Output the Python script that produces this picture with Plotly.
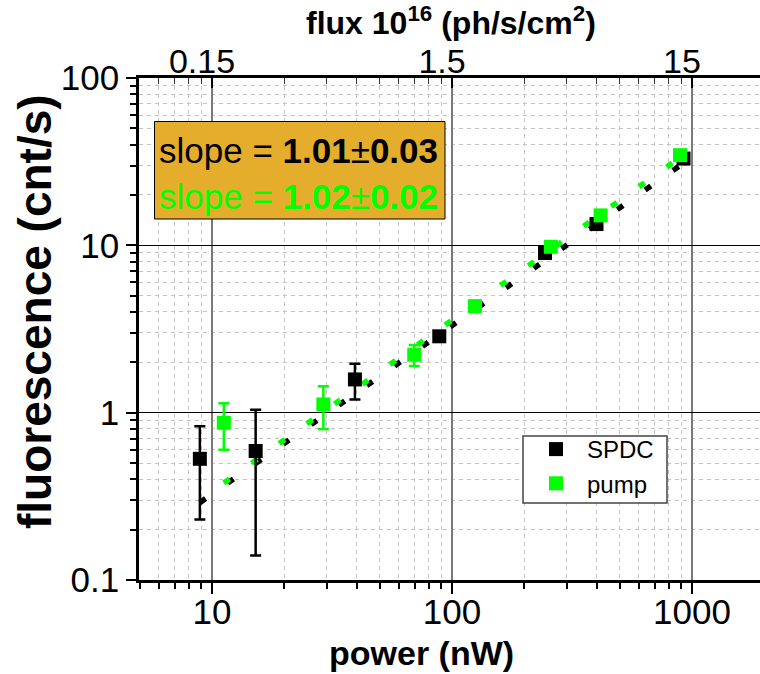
import plotly.graph_objects as go

# ---------------- data ----------------
spdc_power = [8.9, 15.2, 39.4, 88.5, 244, 400, 922]
spdc_fluor = [0.53, 0.59, 1.58, 2.86, 9.0, 13.4, 33.0]
spdc_err = [0.30, 0.45, 0.38, 0.15, 0.5, 0.7, 1.5]

pump_power = [11.2, 29.1, 69.6, 124.7, 258, 416, 891]
pump_fluor = [0.87, 1.12, 2.22, 4.33, 9.8, 15.1, 34.6]
pump_err = [0.27, 0.32, 0.32, 0.2, 0.5, 0.7, 1.5]

spdc_fit_x = [8.9, 922]
spdc_fit_y = [0.29, 31.0]
pump_fit_x = [11.2, 891]
pump_fit_y = [0.38, 33.5]

x_tickvals = [10, 100, 1000]
x_ticktext = ["10", "100", "1000"]
top_ticktext = ["0.15", "1.5", "15"]
y_tickvals = [0.1, 1, 10, 100]
y_ticktext = ["0.1", "1", "10", "100"]

slope_spdc = "slope = <b>1.01</b>±<b>0.03</b>"
slope_pump = "slope = <b>1.02</b>±<b>0.02</b>"

# ---------------- layout geometry ----------------
W, H = 760, 674
L, R, T, B = 139, 0, 78, 94
PW, PH = W - L - R, H - T - B

def px(xp):
    return (xp - L) / PW

def py(yp):
    return (H - B - yp) / PH

FONT = "Liberation Sans, Arial, sans-serif"
GREEN = "#00FF00"

minor_x = [m * d for d in (1, 10, 100, 1000) for m in range(2, 10)]
minor_y = [m * d for d in (0.1, 1, 10) for m in range(2, 10)]

fig = go.Figure()

# fit lines
fig.add_trace(go.Scatter(x=spdc_fit_x, y=spdc_fit_y, mode="lines",
                         line=dict(color="black", width=5.5, dash="7px,27px"),
                         showlegend=False, hoverinfo="skip"))
fig.add_trace(go.Scatter(x=pump_fit_x, y=pump_fit_y, mode="lines",
                         line=dict(color=GREEN, width=5.5, dash="7px,27px"),
                         showlegend=False, hoverinfo="skip"))

# data
fig.add_trace(go.Scatter(x=spdc_power, y=spdc_fluor, mode="markers", name="SPDC",
                         marker=dict(symbol="square", size=14, color="black"),
                         error_y=dict(type="data", array=spdc_err, visible=True,
                                      color="black", thickness=2.5, width=5.5)))
fig.add_trace(go.Scatter(x=pump_power, y=pump_fluor, mode="markers", name="pump",
                         marker=dict(symbol="square", size=14, color=GREEN),
                         error_y=dict(type="data", array=pump_err, visible=True,
                                      color=GREEN, thickness=2.5, width=5.5)))

xrange = [0.6958, 3.2833]

fig.update_layout(
    width=W, height=H,
    margin=dict(l=L, r=R, t=T, b=B, pad=0),
    paper_bgcolor="white", plot_bgcolor="white",
    font=dict(family=FONT, color="black"),
    xaxis=dict(
        type="log", range=xrange,
        tickvals=x_tickvals, ticktext=x_ticktext,
        tickfont=dict(size=35), ticklabelstandoff=-12,
        ticks="outside", ticklen=11, tickwidth=1.5, tickcolor="black",
        showline=True, linecolor="black", linewidth=2.5,
        showgrid=True, gridcolor="#7a7a7a", gridwidth=1.5,
        zeroline=False,
        minor=dict(tickvals=minor_x, ticks="outside", ticklen=6, tickwidth=1.5,
                   tickcolor="black", showgrid=True, gridcolor="#c4c4c4",
                   gridwidth=1, griddash="4px,4px"),
    ),
    xaxis2=dict(
        type="log", range=xrange, overlaying="x", side="top",
        tickvals=x_tickvals, ticktext=top_ticktext,
        tickfont=dict(size=34), ticklabelshift=-10, ticklabelstandoff=-11,
        ticks="inside", ticklen=10, tickwidth=1.5, tickcolor="black",
        showline=True, linecolor="black", linewidth=2.5,
        showgrid=False, zeroline=False,
        minor=dict(tickvals=minor_x, ticks="inside", ticklen=6, tickwidth=1,
                   tickcolor="#333", showgrid=False),
    ),
    yaxis=dict(
        type="log", range=[-1, 2],
        tickvals=y_tickvals, ticktext=y_ticktext,
        tickfont=dict(size=35),
        ticks="outside", ticklen=10, tickwidth=1.5, tickcolor="black",
        showline=True, linecolor="black", linewidth=2.5,
        showgrid=True, gridcolor="black", gridwidth=1.2,
        zeroline=False,
        minor=dict(tickvals=minor_y, ticks="outside", ticklen=6, tickwidth=1.5,
                   tickcolor="black", showgrid=True, gridcolor="#c4c4c4",
                   gridwidth=1, griddash="4px,4px"),
    ),
    showlegend=True,
    legend=dict(x=px(525), y=py(427), xanchor="left", yanchor="top",
                bgcolor="rgba(0,0,0,0)", borderwidth=0,
                font=dict(size=24, family=FONT), itemwidth=52,
                tracegroupgap=0),
)

# trace on the top axis so it is drawn
fig.add_trace(go.Scatter(x=[10], y=[1], xaxis="x2", mode="markers",
                         marker=dict(opacity=0), showlegend=False, hoverinfo="skip"))

# legend frame
fig.add_shape(type="rect", xref="paper", yref="paper",
              x0=px(523), x1=px(667), y0=py(503), y1=py(436),
              fillcolor="white", line=dict(color="#444", width=1.5), layer="above")

# slope box
fig.add_shape(type="rect", xref="paper", yref="paper",
              x0=px(154.5), x1=px(445), y0=py(219), y1=py(121.5),
              fillcolor="#E5AD2C", line=dict(color="black", width=1), layer="above")
fig.add_annotation(xref="paper", yref="paper", x=px(157), y=py(150),
                   xanchor="left", yanchor="middle", showarrow=False,
                   text=slope_spdc, font=dict(size=35, color="black", family=FONT))
fig.add_annotation(xref="paper", yref="paper", x=px(157), y=py(196),
                   xanchor="left", yanchor="middle", showarrow=False,
                   text=slope_pump, font=dict(size=35, color=GREEN, family=FONT))

# axis titles
fig.add_annotation(xref="paper", yref="paper", x=px(421), y=py(653),
                   xanchor="center", yanchor="middle", showarrow=False,
                   text="<b>power (nW)</b>", font=dict(size=34, family=FONT))
fig.add_annotation(xref="paper", yref="paper", x=px(451), y=py(21),
                   xanchor="center", yanchor="middle", showarrow=False,
                   text="<b>flux 10<sup>16</sup> (ph/s/cm<sup>2</sup>)</b>",
                   font=dict(size=32, family=FONT))
fig.add_annotation(xref="paper", yref="paper", x=px(35), y=py(312),
                   xanchor="center", yanchor="middle", showarrow=False, textangle=-90,
                   text="<b>fluorescence (cnt/s)</b>", font=dict(size=46, family=FONT))

fig.write_html("out.html")
